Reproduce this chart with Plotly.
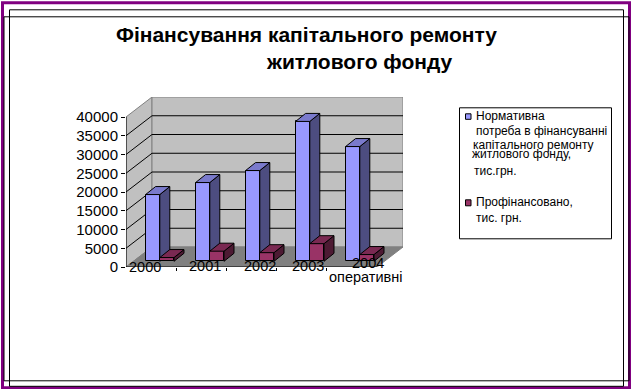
import plotly.graph_objects as go

# ---- data ----
categories = ["2000", "2001", "2002", "2003", "2004"]
category_note = "оперативні"
required = [17800, 21000, 24200, 37300, 30600]
financed = [1000, 2700, 2300, 4700, 1800]
y_ticks = [0, 5000, 10000, 15000, 20000, 25000, 30000, 35000, 40000]
title_lines = ["Фінансування капітального ремонту", "житлового фонду"]
legend_a = ["Нормативна", "потреба в фінансуванні", "капітального ремонту", "житлового фонду,", "тис.грн."]
legend_b = ["Профінансовано,", "тис. грн."]

# ---- layout geometry ----
W, H = 631, 389
L, R, T, B = 126, 403, 96.7, 266.7
FONT = "Liberation Sans"
PX_X = 50.0                # pixels per category
PX_Y = 150 / 40000         # pixels per value unit
XMAX = (R - L) / PX_X
YMAX = (B - T) / PX_Y
WALL_DX = 26 / PX_X
WALL_DY = 20 / PX_Y
BAR_W = 14.2 / PX_X
BAR_DX = 10 / PX_X
BAR_DY = 8 / PX_Y
BASE = 5.7 / PX_Y
LEFT0 = 19.6 / PX_X
xs = [i + LEFT0 for i in range(len(categories))]
xs_red = [x + BAR_W for x in xs]

def paper_x(x): return (x - L) / (R - L)
def paper_y(y): return (B - y) / (B - T)

shapes = []
def poly(pts, fill, line="#808080", width=1):
    d = "M" + " L".join(f"{x},{y}" for x, y in pts) + " Z"
    shapes.append(dict(type="path", path=d, xref="x", yref="y", fillcolor=fill,
                       line=dict(color=line, width=width), layer="below"))
def seg(x0, y0, x1, y1, color="black", width=1):
    shapes.append(dict(type="line", x0=x0, y0=y0, x1=x1, y1=y1, xref="x", yref="y",
                       line=dict(color=color, width=width), layer="below"))
def frame(x0, y0, x1, y1, color="black", width=1, fill=None):
    shapes.append(dict(type="rect", xref="paper", yref="paper",
                       x0=paper_x(x0), x1=paper_x(x1), y0=paper_y(y0), y1=paper_y(y1),
                       line=dict(color=color, width=width),
                       fillcolor=fill or "rgba(0,0,0,0)", layer="below"))

front_w = XMAX - WALL_DX
top = y_ticks[-1]
poly([(0, 0), (WALL_DX, WALL_DY), (WALL_DX, WALL_DY + top), (0, top)], "#C0C0C0")
poly([(WALL_DX, WALL_DY), (XMAX, WALL_DY), (XMAX, WALL_DY + top), (WALL_DX, WALL_DY + top)], "#C0C0C0")
poly([(0, 0), (front_w, 0), (XMAX, WALL_DY), (WALL_DX, WALL_DY)], "#808080")
for v in y_ticks[1:-1]:
    seg(0, v, WALL_DX, v + WALL_DY)
    seg(WALL_DX, v + WALL_DY, XMAX, v + WALL_DY)
seg(0, 0, 0, top)
seg(0, 0, front_w, 0)

# page frames
frame(2.5, 2.5, 629.5, 387.5, "#800080", 3)
frame(9.5, 9.5, 623.5, 386, "black", 1)
frame(4, 16.5, 629, 380.5, "black", 1)
# legend box
frame(459.5, 107.5, 611.5, 238.5, "black", 1, "white")
frame(465.5, 113.5, 471, 119, "black", 1, "#9999FF")
frame(465.5, 199.5, 471, 205.5, "black", 1, "#993366")

def faces(lefts, values, side, topc, xa, ya, name):
    out = []
    sx, sy, tx, ty = [], [], [], []
    for x, v in zip(lefts, values):
        r = x + BAR_W
        b = BASE
        t = BASE + v
        sx += [r, r + BAR_DX, r + BAR_DX, r, r, None]
        sy += [b, b + BAR_DY, t + BAR_DY, t, b, None]
        tx += [x, x + BAR_DX, r + BAR_DX, r, x, None]
        ty += [t, t + BAR_DY, t + BAR_DY, t, t, None]
    for X, Y, c, n in ((sx, sy, side, "side"), (tx, ty, topc, "top")):
        out.append(go.Scatter(x=X, y=Y, mode="lines", fill="toself", fillcolor=c,
                              line=dict(color="black", width=1), hoverinfo="skip",
                              showlegend=False, xaxis=xa, yaxis=ya, name=f"{name} {n}"))
    return out

fig = go.Figure()
fig.add_trace(go.Bar(x=xs, y=required, base=BASE, width=BAR_W, offset=0,
                     marker=dict(color="#9999FF", line=dict(color="black", width=1)),
                     name=" ".join(legend_a), showlegend=False))
fig.add_traces(faces(xs, required, "#4D4D80", "#7A7ACC", "x", "y", "required"))
fig.add_trace(go.Bar(x=xs_red, y=financed, base=BASE, width=BAR_W, offset=0,
                     marker=dict(color="#993366", line=dict(color="black", width=1)),
                     name=" ".join(legend_b), showlegend=False, xaxis="x2", yaxis="y2"))
fig.add_traces(faces(xs_red, financed, "#4D1A33", "#7A2952", "x2", "y2", "financed"))

# category labels sit irregularly, as in the source picture
label_px = [145, 205, 260, 308, 368, 365]
label_py = [267, 265.7, 265.7, 265.7, 262.7, 276.7]
annotations = []
for c, xp, yp in zip(categories + [category_note], label_px, label_py):
    annotations.append(dict(text=c, xref="paper", yref="paper", x=paper_x(xp), y=paper_y(yp),
                            showarrow=False, xanchor="center", yanchor="middle",
                            font=dict(family=FONT, size=14.5, color="black")))

def txt(s, x, y, size=12, bold=False):
    annotations.append(dict(text=f"<b>{s}</b>" if bold else s, xref="paper", yref="paper",
                            x=paper_x(x), y=paper_y(y), showarrow=False,
                            xanchor="left", yanchor="middle", xshift=-1,
                            borderpad=0, font=dict(family=FONT, size=size, color="black")))

for s, x, y in zip(legend_a, [475.7, 475.7, 473.3, 471.7, 473.7], [116, 131, 144.3, 154, 171]):
    txt(s, x, y)
for s, x, y in zip(legend_b, [475.7, 475.7], [202, 217.7]):
    txt(s, x, y)
txt(title_lines[0], 116, 34, 21, True)
txt(title_lines[1], 266, 61, 21, True)

fig.update_layout(
    width=W, height=H, autosize=False,
    margin=dict(l=L, r=W - R, t=T, b=H - B),
    paper_bgcolor="white", plot_bgcolor="rgba(0,0,0,0)",
    showlegend=False, bargap=0, shapes=shapes, annotations=annotations,
    xaxis=dict(range=[0, XMAX], tickvals=[1, 2, 3, 4], ticktext=["", "", "", ""],
               ticks="outside", ticklen=3, tickcolor="black", showgrid=False,
               zeroline=False, showline=False),
    yaxis=dict(range=[0, YMAX], tickvals=y_ticks, ticks="outside", ticklen=4, tickcolor="black",
               tickformat="d", showgrid=False, zeroline=False, showline=False,
               tickfont=dict(family=FONT, size=15, color="black")),
    xaxis2=dict(range=[0, XMAX], overlaying="x", visible=False),
    yaxis2=dict(range=[0, YMAX], overlaying="y", visible=False),
)
fig.write_html("out.html", post_script="document.body.style.margin='0';document.body.style.overflow='hidden';",
               config=dict(displayModeBar=False))
